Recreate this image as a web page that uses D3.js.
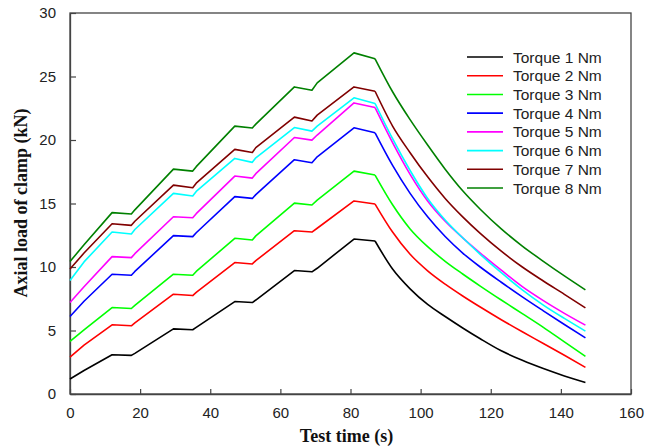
<!DOCTYPE html>
<html>
<head>
<meta charset="utf-8">
<script src="https://cdn.jsdelivr.net/npm/d3@7"></script>
<style>
  body { margin: 0; background: #fff; }
  svg { display: block; }
  .tick text { font-family: "Liberation Sans", Arial, sans-serif; font-size: 15px; fill: #222; }
</style>
</head>
<body>
<div id="chart"></div>
<script>
// test time (s) sample points; loading ends at 87 s, relaxation after that
var times = [0, 4, 12, 17.5, 18.5, 29.5, 35, 36, 47, 52, 53, 64, 69, 70.5, 81, 87,
             92, 97, 102, 107, 112, 117, 123, 129, 135, 141, 147];
var unloadStart = 15; // index of t = 87

// axial load (kN), one array per torque
var torque1 = [1.18, 1.85, 3.09, 3.04, 3.2, 5.13, 5.06, 5.25, 7.28, 7.2, 7.4, 9.72, 9.62, 9.9, 12.2, 12.05,
               9.84, 8.28, 7.05, 6.1, 5.2, 4.35, 3.4, 2.65, 2.0, 1.42, 0.9];
var torque2 = [2.9, 3.85, 5.45, 5.37, 5.6, 7.86, 7.75, 8.0, 10.35, 10.24, 10.5, 12.86, 12.75, 13.05, 15.2, 14.96,
               12.75, 11.0, 9.7, 8.65, 7.72, 6.85, 5.85, 4.9, 3.98, 3.05, 2.1];
var torque3 = [4.14, 5.05, 6.81, 6.73, 6.98, 9.43, 9.35, 9.65, 12.26, 12.13, 12.45, 15.03, 14.88, 15.27, 17.55, 17.24,
               14.9, 13.0, 11.6, 10.45, 9.45, 8.5, 7.4, 6.33, 5.25, 4.1, 2.96];
var torque4 = [6.1, 7.3, 9.43, 9.35, 9.65, 12.47, 12.39, 12.7, 15.54, 15.4, 15.7, 18.45, 18.21, 18.68, 20.96, 20.57,
               18.0, 15.8, 13.95, 12.4, 11.1, 10.0, 8.8, 7.65, 6.55, 5.47, 4.42];
var torque5 = [7.2, 8.45, 10.82, 10.74, 11.05, 13.96, 13.88, 14.2, 17.16, 17.0, 17.35, 20.2, 19.99, 20.39, 22.92, 22.56,
               19.8, 17.3, 15.2, 13.6, 12.3, 11.1, 9.75, 8.45, 7.35, 6.35, 5.42];
var torque6 = [8.93, 10.4, 12.76, 12.6, 12.95, 15.8, 15.59, 15.95, 18.55, 18.24, 18.6, 20.98, 20.7, 21.09, 23.32, 22.88,
               20.1, 17.6, 15.4, 13.7, 12.3, 11.0, 9.55, 8.2, 7.0, 5.95, 4.95];
var torque7 = [9.85, 11.1, 13.41, 13.28, 13.6, 16.45, 16.24, 16.6, 19.26, 19.02, 19.4, 21.8, 21.5, 21.96, 24.18, 23.84,
               21.1, 19.0, 17.1, 15.4, 13.95, 12.65, 11.25, 10.0, 8.9, 7.85, 6.78];
var torque8 = [10.43, 11.75, 14.28, 14.17, 14.5, 17.71, 17.55, 17.9, 21.09, 20.95, 21.25, 24.18, 23.92, 24.5, 26.86, 26.4,
               23.8, 21.6, 19.6, 17.7, 16.0, 14.55, 13.0, 11.65, 10.45, 9.3, 8.2];

var seriesNames = ["Torque 1 Nm", "Torque 2 Nm", "Torque 3 Nm", "Torque 4 Nm",
                   "Torque 5 Nm", "Torque 6 Nm", "Torque 7 Nm", "Torque 8 Nm"];
var seriesColors = ["#000000", "#ff0000", "#00ff00", "#0000ff",
                    "#ff00ff", "#00ffff", "#800000", "#008000"];
var seriesValues = [torque1, torque2, torque3, torque4, torque5, torque6, torque7, torque8];

var xTicks = [0, 20, 40, 60, 80, 100, 120, 140, 160];
var yTicks = [0, 5, 10, 15, 20, 25, 30];

var svgWidth = 657, svgHeight = 447;
var margin = { top: 13, right: 26, bottom: 53, left: 70 };
var width = svgWidth - margin.left - margin.right;
var height = svgHeight - margin.top - margin.bottom;

var svg = d3.select("#chart").append("svg")
  .attr("width", svgWidth)
  .attr("height", svgHeight);

var chartGroup = svg.append("g")
  .attr("transform", `translate(${margin.left}, ${margin.top})`);

var xLinearScale = d3.scaleLinear().domain([0, 160]).range([0, width]);
var yLinearScale = d3.scaleLinear().domain([0, 30]).range([height, 0]);

// frame
chartGroup.append("rect")
  .attr("x", 0).attr("y", 0)
  .attr("width", width).attr("height", height)
  .attr("fill", "none")
  .attr("stroke", "#444")
  .attr("stroke-width", 1.3);

// axes, ticks pointing inward
var bottomAxis = d3.axisBottom(xLinearScale).tickValues(xTicks).tickSizeInner(-5).tickSizeOuter(0).tickPadding(13);
var leftAxis = d3.axisLeft(yLinearScale).tickValues(yTicks).tickSizeInner(-6).tickSizeOuter(0).tickPadding(14);

var xAxis = chartGroup.append("g")
  .attr("transform", `translate(0, ${height})`)
  .call(bottomAxis);
var yAxis = chartGroup.append("g").call(leftAxis);

[xAxis, yAxis].forEach(function(ax) {
  ax.select(".domain").attr("stroke", "#444").attr("stroke-width", 1.3);
  ax.selectAll(".tick line").attr("stroke", "#444").attr("stroke-width", 1.2);
});

// lines: straight segments while loading, smooth curve while relaxing
function toPoints(values) {
  return values.map(function(v, i) { return [times[i], v]; });
}

var loadLine = d3.line()
  .x(function(d) { return xLinearScale(d[0]); })
  .y(function(d) { return yLinearScale(d[1]); });

var relaxLine = d3.line()
  .curve(d3.curveMonotoneX)
  .x(function(d) { return xLinearScale(d[0]); })
  .y(function(d) { return yLinearScale(d[1]); });

var seriesGroup = chartGroup.selectAll(".series")
  .data(seriesValues)
  .enter()
  .append("g")
  .attr("class", "series");

seriesGroup.append("path")
  .attr("d", function(d) { return loadLine(toPoints(d).slice(0, unloadStart + 1)); })
  .attr("fill", "none")
  .attr("stroke", function(d, i) { return seriesColors[i]; })
  .attr("stroke-width", 1.6)
  .attr("stroke-linejoin", "round");

seriesGroup.append("path")
  .attr("d", function(d) { return relaxLine(toPoints(d).slice(unloadStart)); })
  .attr("fill", "none")
  .attr("stroke", function(d, i) { return seriesColors[i]; })
  .attr("stroke-width", 1.6)
  .attr("stroke-linejoin", "round");

// legend
var legend = svg.append("g").attr("transform", "translate(467, 57)");
var legendItems = legend.selectAll("g")
  .data(seriesNames)
  .enter()
  .append("g")
  .attr("transform", function(d, i) { return `translate(0, ${i * 18.72})`; });

legendItems.append("line")
  .attr("x1", 0).attr("x2", 36)
  .attr("y1", 0).attr("y2", 0)
  .attr("stroke", function(d, i) { return seriesColors[i]; })
  .attr("stroke-width", 1.6);

legendItems.append("text")
  .attr("x", 46)
  .attr("y", 5.5)
  .attr("font-family", "Liberation Sans, Arial, sans-serif")
  .attr("font-size", "15.5px")
  .attr("fill", "#222")
  .text(function(d) { return d; });

// axis titles
svg.append("text")
  .attr("x", margin.left + width / 2 - 4)
  .attr("y", 442)
  .attr("text-anchor", "middle")
  .attr("font-family", "Liberation Serif, Times New Roman, serif")
  .attr("font-weight", "bold")
  .attr("font-size", "18px")
  .attr("fill", "#111")
  .text("Test time (s)");

svg.append("text")
  .attr("transform", "translate(27, 203) rotate(-90)")
  .attr("text-anchor", "middle")
  .attr("font-family", "Liberation Serif, Times New Roman, serif")
  .attr("font-weight", "bold")
  .attr("font-size", "18px")
  .attr("fill", "#111")
  .text("Axial load of clamp (kN)");
</script>
</body>
</html>
